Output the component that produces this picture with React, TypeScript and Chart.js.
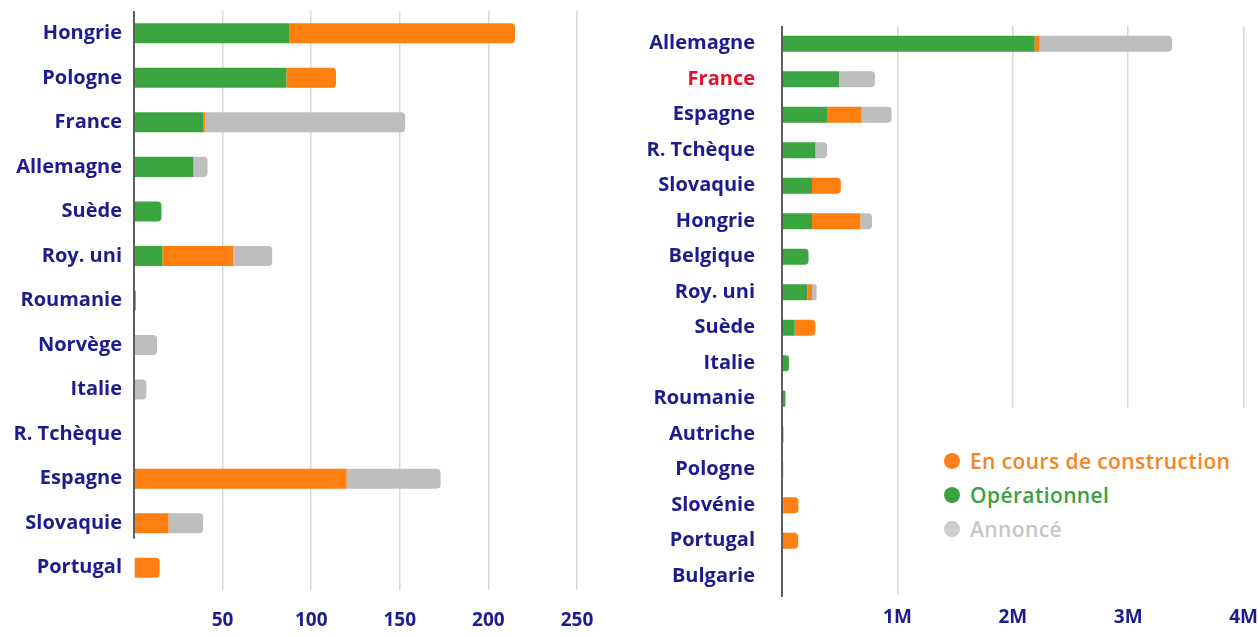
import React, { useEffect, useRef } from 'react';
import { Chart, registerables } from 'chart.js';

Chart.register(...registerables);

// ---------- Data ----------
const leftCategories = ['Hongrie', 'Pologne', 'France', 'Allemagne', 'Suède', 'Roy. uni', 'Roumanie', 'Norvège', 'Italie', 'R. Tchèque', 'Espagne', 'Slovaquie', 'Portugal'];
const leftOperationnel = [87.5, 86, 39, 33.5, 15.5, 16, 1, 0, 0, 0, 0, 0, 0];
const leftEnCours = [127.5, 28, 1, 0, 0, 40, 0, 0, 0, 0, 120, 19.5, 14.5];
const leftAnnonce = [0, 0, 113, 8, 0, 22, 0, 13, 7, 0, 53, 19.5, 0];
const leftMax = 250;
const leftStep = 50;
const leftAxisLastCategory = 'Slovaquie';

const rightCategories = ['Allemagne', 'France', 'Espagne', 'R. Tchèque', 'Slovaquie', 'Hongrie', 'Belgique', 'Roy. uni', 'Suède', 'Italie', 'Roumanie', 'Autriche', 'Pologne', 'Slovénie', 'Portugal', 'Bulgarie'];
const rightOperationnel = [2190000, 495000, 390000, 290000, 260000, 260000, 230000, 220000, 110000, 60000, 30000, 12000, 10000, 12000, 0, 0];
const rightEnCours = [40000, 0, 300000, 0, 250000, 420000, 0, 40000, 180000, 0, 0, 0, 0, 130000, 140000, 0];
const rightAnnonce = [1150000, 310000, 260000, 100000, 0, 100000, 0, 40000, 0, 0, 0, 0, 0, 0, 0, 0];
const rightMax = 4000000;
const rightStep = 1000000;

const seriesLabels = ['Opérationnel', 'En cours de construction', 'Annoncé'];
const seriesColors = ['#3ba53f', '#ff7f11', '#bebebe'];
const legendOrder = [1, 0, 2];
const legendTextColors = ['#3b9f40', '#f7831d', '#c6c6c6'];
const legendDotColors = ['#3aa23e', '#fb7f1a', '#cdcdcd'];

const NAVY = '#1c1c8e';
const RED = '#e3102b';
const FONT = "'Open Sans', 'DejaVu Sans', sans-serif";

function makeDatasets(op: number[], enc: number[], ann: number[]) {
  const values = [op, enc, ann];
  return values.map((data, i) => ({
    label: seriesLabels[i],
    data,
    backgroundColor: seriesColors[i],
    borderWidth: 0,
    borderRadius: 4,
    barPercentage: 0.45,
    categoryPercentage: 1,
  }));
}

// Draws the category axis line, optionally stopping below a given category
const axisLinePlugin = {
  id: 'axisLine',
  afterDatasetsDraw(chart: any, _args: any, opts: any) {
    const y = chart.scales.y;
    const x = chart.scales.x;
    const ctx = chart.ctx;
    const top = chart.chartArea.top;
    let bottom = chart.chartArea.bottom + 3;
    if (opts && opts.lastCategory) {
      const idx = (chart.data.labels as string[]).indexOf(opts.lastCategory);
      const band = (chart.chartArea.bottom - chart.chartArea.top) / chart.data.labels.length;
      bottom = y.getPixelForValue(idx) + band * 0.35;
    }
    const px = x.getPixelForValue(0);
    ctx.save();
    ctx.strokeStyle = '#2a2a2a';
    ctx.lineWidth = 1.5;
    ctx.beginPath();
    ctx.moveTo(px, top);
    ctx.lineTo(px, bottom);
    ctx.stroke();
    ctx.restore();
  },
};

function baseOptions(opts: any) {
  return {
    indexAxis: 'y',
    animation: false,
    responsive: false,
    maintainAspectRatio: false,
    layout: { padding: opts.padding },
    plugins: {
      legend: { display: false },
      tooltip: { enabled: false },
      axisLine: { lastCategory: opts.lastCategory },
    },
    scales: {
      x: {
        stacked: true,
        min: 0,
        max: opts.max,
        ticks: {
          stepSize: opts.step,
          callback: opts.tickFmt,
          color: NAVY,
          font: { family: FONT, size: 19, weight: 'bold' },
          padding: opts.xPad,
          maxRotation: 0,
          autoSkip: false,
        },
        grid: {
          color: (c: any) => (c.tick && c.tick.value === 0 ? 'rgba(0,0,0,0)' : '#d9d9d9'),
          lineWidth: 1.5,
          drawTicks: false,
        },
        border: { display: false },
        afterFit: (s: any) => {
          s.height = opts.xHeight;
          s.paddingRight = Math.max(s.paddingRight - opts.xPad, 0);
          s.paddingLeft = Math.max(s.paddingLeft - opts.xPad, 0);
        },
      },
      y: {
        stacked: true,
        ticks: {
          color: opts.yColor,
          font: { family: FONT, size: 20, weight: 'bold' },
          padding: opts.yPad,
          autoSkip: false,
        },
        grid: { display: false, drawTicks: false },
        border: { display: false },
        afterFit: (s: any) => {
          s.width = opts.yWidth;
          s.paddingTop = 0;
          s.paddingBottom = 0;
        },
      },
    },
  };
}

export default function App() {
  const leftRef = useRef<HTMLCanvasElement>(null);
  const rightRef = useRef<HTMLCanvasElement>(null);

  useEffect(() => {
    const left = new Chart(leftRef.current as HTMLCanvasElement, {
      type: 'bar',
      data: { labels: leftCategories, datasets: makeDatasets(leftOperationnel, leftEnCours, leftAnnonce) as any },
      options: baseOptions({
        padding: { top: 11, right: 43, left: 0, bottom: 0 },
        max: leftMax,
        step: leftStep,
        tickFmt: (v: any) => (v === 0 ? '' : String(v)),
        xPad: 19,
        xHeight: 47,
        yColor: NAVY,
        yPad: 12,
        yWidth: 134,
        lastCategory: leftAxisLastCategory,
      }) as any,
      plugins: [axisLinePlugin],
    });
    const right = new Chart(rightRef.current as HTMLCanvasElement, {
      type: 'bar',
      data: { labels: rightCategories, datasets: makeDatasets(rightOperationnel, rightEnCours, rightAnnonce) as any },
      options: baseOptions({
        padding: { top: 26, right: 0, left: 0, bottom: 0 },
        max: rightMax,
        step: rightStep,
        tickFmt: (v: any) => (v === 0 ? '' : v / 1000000 + 'M'),
        xPad: 12,
        xHeight: 43,
        yColor: (c: any) => (c.tick && c.tick.label === 'France' ? RED : NAVY),
        yPad: 27,
        yWidth: 162,
        lastCategory: null,
      }) as any,
      plugins: [axisLinePlugin],
    });
    return () => {
      left.destroy();
      right.destroy();
    };
  }, []);

  return (
    <div style={{ position: 'absolute', left: 0, top: 0, width: 1258, height: 637, overflow: 'hidden', background: '#fff' }}>
      <canvas ref={leftRef} width={620} height={637} style={{ position: 'absolute', left: 0, top: 0, width: 620, height: 637 }} />
      <canvas ref={rightRef} width={638} height={637} style={{ position: 'absolute', left: 620, top: 0, width: 638, height: 637 }} />
      <div style={{ position: 'absolute', left: 930, top: 408, width: 328, height: 188, background: '#fff' }}>
        {legendOrder.map((idx, row) => (
          <div
            key={idx}
            style={{
              position: 'absolute',
              left: 14,
              top: 53 + row * 34 - 14,
              height: 28,
              display: 'flex',
              alignItems: 'center',
              fontFamily: FONT,
              fontWeight: 600,
              fontSize: 21,
              letterSpacing: 0.4,
              color: legendTextColors[idx],
              whiteSpace: 'nowrap',
            }}
          >
            <span style={{ display: 'inline-block', width: 16, height: 16, borderRadius: 8, background: legendDotColors[idx], marginRight: 10 }} />
            {seriesLabels[idx]}
          </div>
        ))}
      </div>
    </div>
  );
}
